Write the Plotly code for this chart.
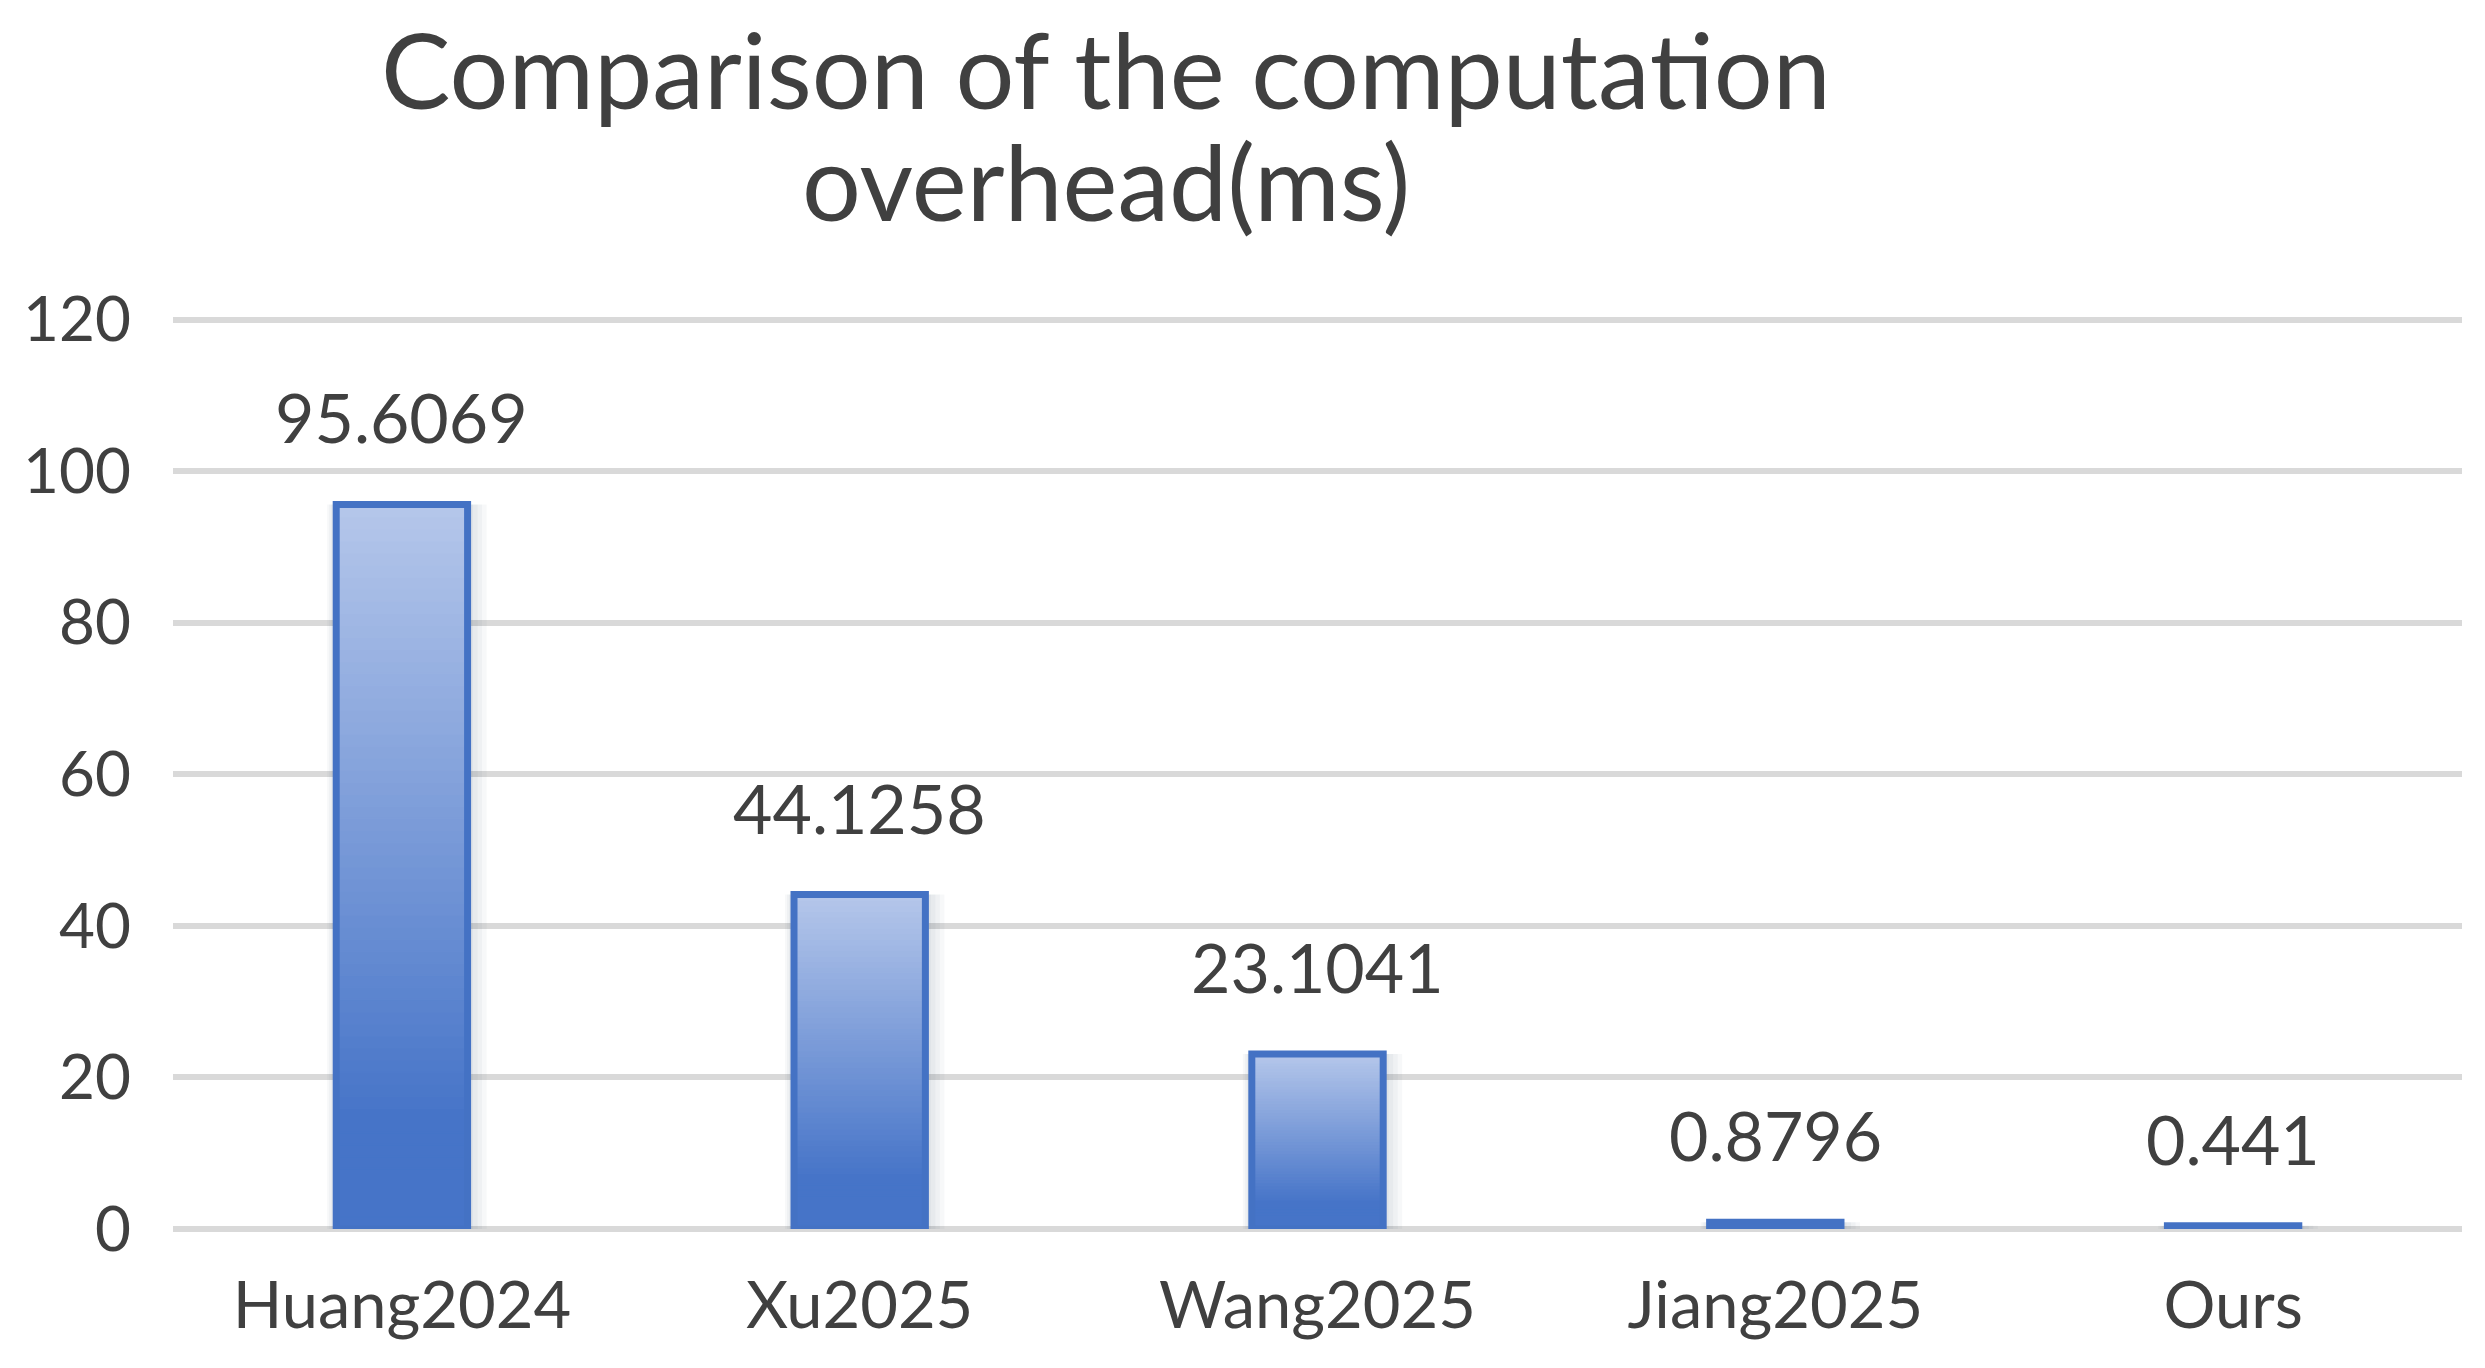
import plotly.graph_objects as go

# data
methods = ["Huang2024", "Xu2025", "Wang2025", "Jiang2025", "Ours"]
overhead = [95.6069, 44.1258, 23.1041, 0.8796, 0.441]
value_text = ["95.6069", "44.1258", "23.1041", "0.8796", "0.441"]
y_ticks = [0, 20, 40, 60, 80, 100, 120]

FONT = "Lato"
TXT = "#404040"
EDGE = "#4472c4"
top_rgb = (180, 198, 234)     # light at the top of every bar
bot_rgb = (70, 116, 200)      # accent colour at the bottom
N_STEPS = 60                  # slices used to fake the vertical gradient
BAR_W = 0.287
PX = 1 / 458                  # one pixel in category units (approx)

fig = go.Figure()

# soft drop shadow, mostly to the right like excel's
for i in range(1, 5):
    left = 2 * i + 1
    right = 4.5 * i + 1
    fig.add_trace(go.Bar(
        x=methods, y=overhead,
        width=BAR_W + (left + right) * PX,
        offset=-BAR_W / 2 - left * PX,
        marker=dict(color="rgba(40,50,85,0.035)", line=dict(width=0)),
        hoverinfo="skip", showlegend=False,
    ))

# gradient: each bar split into thin slices of its own height, coloured bottom -> top
for k in range(N_STEPS):
    t = 1 - k / (N_STEPS - 1)          # 0 at top, 1 at bottom
    f = min(t / 0.85, 1.0)
    c = tuple(round(a + (b - a) * f) for a, b in zip(top_rgb, bot_rgb))
    col = "rgb(%d,%d,%d)" % c
    fig.add_trace(go.Bar(
        x=methods,
        y=[v / N_STEPS for v in overhead],
        base=[v * k / N_STEPS for v in overhead],
        width=BAR_W, offset=-BAR_W / 2,
        marker=dict(color=col, line=dict(color=col, width=1.5)),
        hoverinfo="skip", showlegend=False,
    ))

# outline on top
fig.add_trace(go.Bar(
    x=methods, y=overhead, width=BAR_W, offset=-BAR_W / 2,
    marker=dict(color="rgba(0,0,0,0)", line=dict(color=EDGE, width=7)),
    showlegend=False,
))

# value labels above bars
for m, v, s in zip(methods, overhead, value_text):
    fig.add_annotation(x=m, y=v, text=s, showarrow=False, yanchor="bottom",
                       yshift=45, font=dict(family=FONT, size=68, color=TXT))

# two-line title, left of centre like the excel one
fig.add_annotation(xref="paper", yref="paper", x=0.4077, y=1.266,
                   text="Comparison of the computa\u200ction",
                   showarrow=False, xanchor="center", yanchor="middle",
                   font=dict(family=FONT, size=104, color=TXT))
fig.add_annotation(xref="paper", yref="paper", x=0.4077, y=1.143, text="overhead(ms)",
                   showarrow=False, xanchor="center", yanchor="middle",
                   font=dict(family=FONT, size=104, color=TXT))

# page body has an 8px margin, so the figure is 8px smaller than the window
fig.update_layout(
    width=2477, height=1360,
    margin=dict(l=165, r=23, t=304, b=139),
    barmode="overlay",
    plot_bgcolor="white", paper_bgcolor="white",
    font=dict(family=FONT, color=TXT),
)
fig.update_yaxes(range=[0, 121], tickvals=y_ticks, showgrid=True, gridcolor="#d9d9d9", gridwidth=6,
                 zeroline=True, zerolinecolor="#d9d9d9", zerolinewidth=6, showline=False,
                 tickfont=dict(family=FONT, size=62, color=TXT), ticklabelstandoff=41,
                 automargin=False)
fig.update_xaxes(showgrid=False, showline=False, ticks="",
                 tickfont=dict(family=FONT, size=65, color=TXT), ticklabelstandoff=33,
                 automargin=False)

fig.write_html("out.html")
